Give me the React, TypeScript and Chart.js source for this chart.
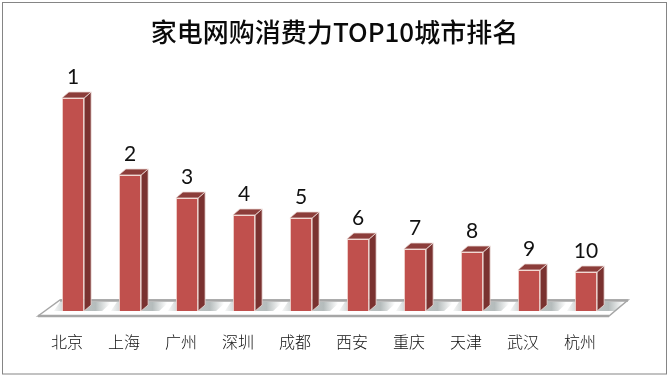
import React, { useEffect, useRef } from "react";
import { Chart, registerables } from "chart.js";

Chart.register(...registerables);

const cities = ["北京", "上海", "广州", "深圳", "成都", "西安", "重庆", "天津", "武汉", "杭州"];
const heights = [213, 136, 113, 96, 93, 72, 62, 59, 41, 39];
const ranks = ["1", "2", "3", "4", "5", "6", "7", "8", "9", "10"];
const titleText = "家电网购消费力TOP10城市排名";

const DX = 7;
const DY = 6;

function poly(ctx: CanvasRenderingContext2D, pts: number[][], fill?: any, stroke?: string, lw = 1) {
  ctx.beginPath();
  pts.forEach((p, i) => (i ? ctx.lineTo(p[0], p[1]) : ctx.moveTo(p[0], p[1])));
  ctx.closePath();
  if (fill) {
    ctx.fillStyle = fill;
    ctx.fill();
  }
  if (stroke) {
    ctx.strokeStyle = stroke;
    ctx.lineWidth = lw;
    ctx.stroke();
  }
}

const bar3d = {
  id: "bar3d",
  beforeDraw(chart: any) {
    const { ctx, width, height } = chart;
    ctx.save();
    ctx.fillStyle = "#ffffff";
    ctx.fillRect(0, 0, width, height);
    ctx.strokeStyle = "#858585";
    ctx.lineWidth = 1;
    ctx.strokeRect(2.5, 2.5, 664, 371.5);
    ctx.fillStyle = "#0a0a0a";
    ctx.font = '500 26px "Noto Sans CJK SC", sans-serif';
    ctx.textAlign = "center";
    ctx.textBaseline = "middle";
    ctx.fillText(titleText, 334.5, 32);
    ctx.restore();
  },
  beforeDatasetsDraw(chart: any) {
    const { ctx, chartArea } = chart;
    const b = chartArea.bottom;
    ctx.save();
    // floor
    poly(ctx, [[38, b + 5], [60, b - 11], [628, b - 11], [609, b + 5]], "#ffffff", "#a6a6a6", 1.5);
    ctx.strokeStyle = "#a6a6a6";
    ctx.lineWidth = 2.5;
    ctx.beginPath();
    ctx.moveTo(38, b + 5);
    ctx.lineTo(609, b + 5);
    ctx.moveTo(60, b - 10.5);
    ctx.lineTo(628, b - 10.5);
    ctx.stroke();
    const meta = chart.getDatasetMeta(0);
    meta.data.forEach((el: any) => {
      const l = el.x - el.width / 2;
      const r = el.x + el.width / 2;
      const t = el.y;
      // floor shadow
      const g = ctx.createLinearGradient(l - 10, 0, r + 26, 0);
      g.addColorStop(0, "rgba(150,160,160,0)");
      g.addColorStop(0.25, "rgba(150,160,160,0.55)");
      g.addColorStop(0.75, "rgba(150,160,160,0.7)");
      g.addColorStop(1, "rgba(150,160,160,0)");
      poly(ctx, [[l - 8, b], [l - 2, b - 9], [r + 28, b - 9], [r + 18, b]], g);
      // side and top faces
      poly(ctx, [[r, t], [r + DX, t - DY], [r + DX, b - DY], [r, b]], "#7a3230", "#ecdcd8", 0.8);
      poly(ctx, [[l, t], [l + DX, t - DY], [r + DX, t - DY], [r, t]], "#8c3d3a", "#ecdcd8", 0.8);
    });
    ctx.restore();
  },
  afterDatasetsDraw(chart: any) {
    const { ctx } = chart;
    ctx.save();
    ctx.fillStyle = "#111111";
    ctx.font = '21px Lato, "Open Sans", sans-serif';
    ctx.textAlign = "center";
    ctx.textBaseline = "middle";
    chart.getDatasetMeta(0).data.forEach((el: any, i: number) => {
      ctx.fillText(ranks[i], el.x, el.y - 21);
    });
    ctx.restore();
  },
};

export default function App() {
  const ref = useRef<HTMLCanvasElement>(null);
  useEffect(() => {
    document.body.style.margin = "0";
    const chart = new Chart(ref.current!, {
      type: "bar",
      data: {
        labels: cities,
        datasets: [
          {
            data: heights,
            backgroundColor: "#c0504d",
            borderColor: "#f2d9d3",
            borderWidth: 1,
            barPercentage: 0.39,
            categoryPercentage: 1,
          },
        ],
      },
      options: {
        responsive: false,
        animation: false,
        layout: { padding: { left: 44.5, right: 55.5, top: 61, bottom: 0 } },
        plugins: {
          legend: { display: false },
          tooltip: { enabled: false },
          title: { display: false },
        },
        scales: {
          x: {
            afterFit: (s: any) => {
              s.height = 66;
            },
            grid: { display: false },
            border: { display: false },
            ticks: {
              color: "#111111",
              padding: 13,
              labelOffset: -6,
              maxRotation: 0,
              autoSkip: false,
              font: { family: '"Noto Sans CJK SC", sans-serif', size: 16, weight: "300" },
            },
          },
          y: { display: false, min: 0, max: 250 },
        },
      },
      plugins: [bar3d],
    } as any);
    return () => chart.destroy();
  }, []);
  return <canvas ref={ref} width={670} height={377} style={{ display: "block" }} />;
}
